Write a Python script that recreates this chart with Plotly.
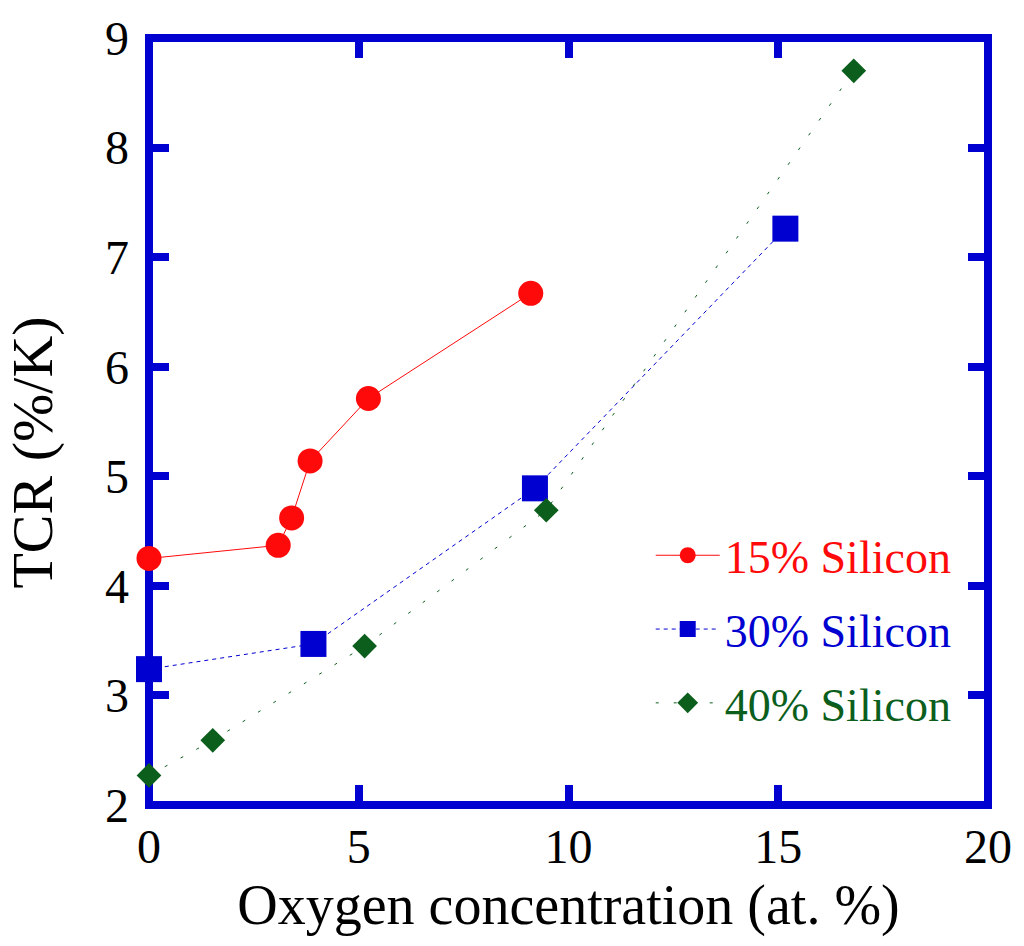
import plotly.graph_objects as go

# TCR versus oxygen content for three silicon contents
si15_o = [0.0, 3.08, 3.40, 3.84, 5.23, 9.10]
si15_tcr = [4.25, 4.37, 4.62, 5.14, 5.71, 6.67]

si30_o = [0.0, 3.92, 9.20, 15.17]
si30_tcr = [3.24, 3.47, 4.89, 7.26]

si40_o = [0.0, 1.52, 5.14, 9.47, 16.80]
si40_tcr = [2.27, 2.59, 3.45, 4.69, 8.70]

x_ticks = [0, 5, 10, 15, 20]
y_ticks = [2, 3, 4, 5, 6, 7, 8, 9]

RED = "#ff0a0a"
BLUE = "#0000d0"
GREEN = "#0b5e1c"
FONT = "Liberation Serif, Times New Roman, serif"

fig = go.Figure()

fig.add_trace(go.Scatter(
    x=si15_o, y=si15_tcr, mode="lines+markers",
    name=f'<span style="color:{RED}">15% Silicon</span>',
    legendgroup="a",
    line=dict(color=RED, width=1),
    marker=dict(symbol="circle", size=25, color=RED),
    cliponaxis=False,
))
fig.add_trace(go.Scatter(
    x=si30_o, y=si30_tcr, mode="lines+markers",
    name=f'<span style="color:{BLUE}">30% Silicon</span>',
    legendgroup="b",
    line=dict(color=BLUE, width=1, dash="4px,4px"),
    marker=dict(symbol="square", size=26, color=BLUE),
    cliponaxis=False,
))
fig.add_trace(go.Scatter(
    x=si40_o, y=si40_tcr, mode="lines+markers",
    name=f'<span style="color:{GREEN}">40% Silicon</span>',
    legendgroup="c",
    line=dict(color=GREEN, width=1, dash="3px,15px"),
    marker=dict(symbol="diamond", size=19, color=GREEN),
    cliponaxis=False,
))

axis_common = dict(
    showgrid=False, zeroline=False, showline=False,
    ticks="inside", ticklen=20, tickwidth=8, tickcolor=BLUE,
    mirror="ticks",
    tickfont=dict(family=FONT, size=48, color="black"),
)

fig.update_xaxes(
    range=[0, 20], tickvals=x_ticks, ticktext=[str(v) for v in x_ticks],
    title=dict(text="Oxygen concentration (at. %)",
               font=dict(family=FONT, size=56, color="black"), standoff=12),
    ticklabelstandoff=9,
    **axis_common,
)
fig.update_yaxes(
    range=[2, 9], tickvals=y_ticks, ticktext=[str(v) for v in y_ticks],
    ticklabelstandoff=19,
    **axis_common,
)

# y-axis title, set a little below the vertical centre of the plot
fig.add_annotation(
    text="TCR (%/K)", textangle=-90, showarrow=False,
    xref="paper", yref="paper", x=-0.139, y=0.46,
    xanchor="center", yanchor="middle",
    font=dict(family=FONT, size=58, color="black"),
)

# heavy blue frame centred on the plot-area edges
fig.add_shape(type="rect", xref="paper", yref="paper", x0=0, x1=1, y0=0, y1=1,
              line=dict(color=BLUE, width=8), layer="below")

fig.update_layout(
    width=1024, height=946,
    margin=dict(l=149, r=32, t=36, b=141),
    plot_bgcolor="white", paper_bgcolor="white",
    font=dict(family=FONT, color="black"),
    legend=dict(
        x=0.598, xanchor="left", y=0.229, yanchor="middle",
        bgcolor="rgba(0,0,0,0)", borderwidth=0,
        font=dict(family=FONT, size=46),
        itemwidth=64, tracegroupgap=11, traceorder="grouped",
    ),
)

fig.write_html("out.html")
